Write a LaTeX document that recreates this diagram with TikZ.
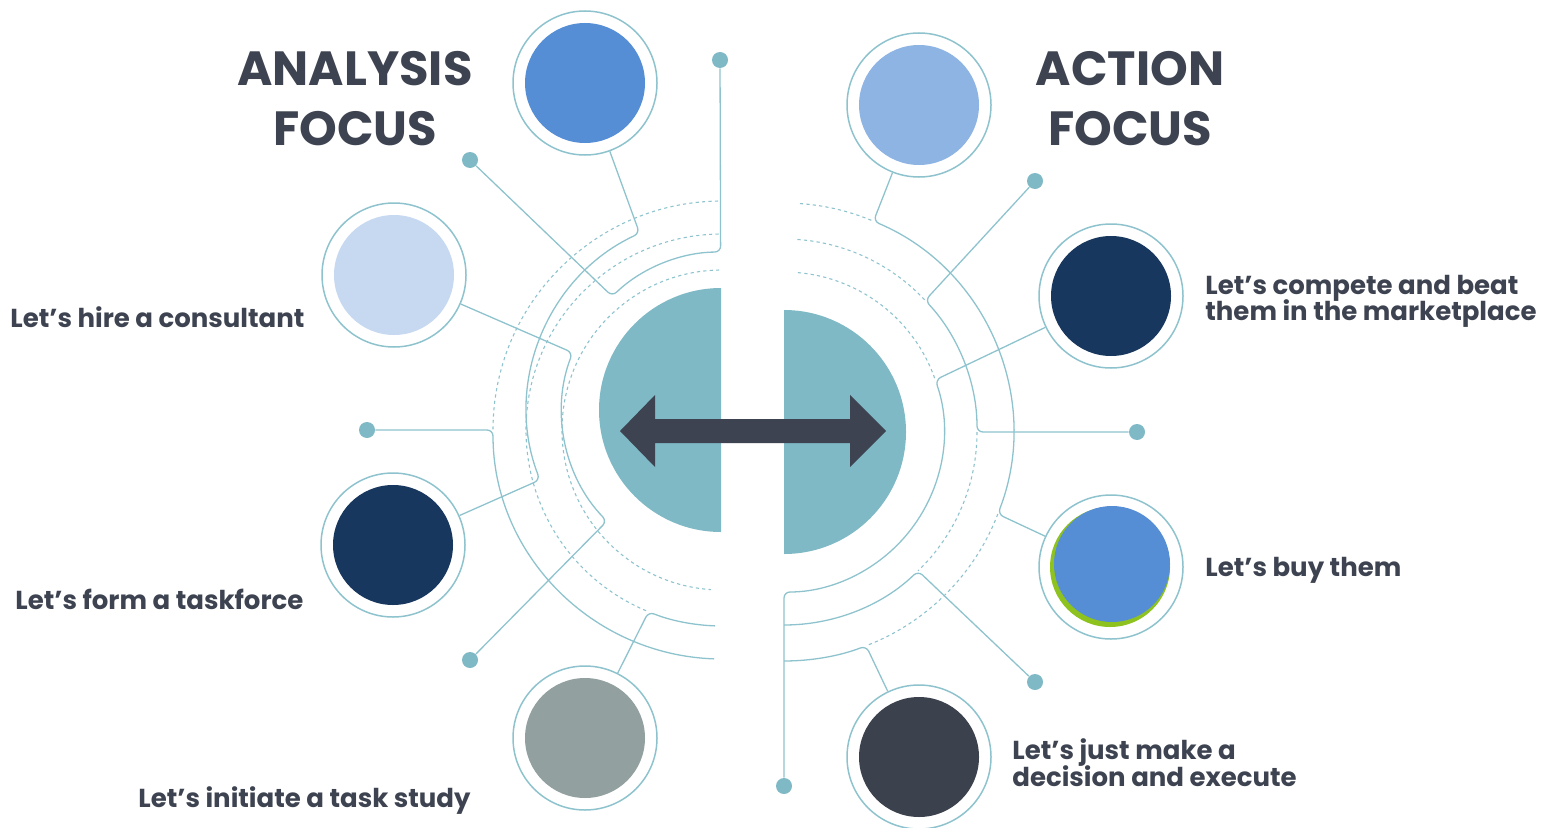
\documentclass[tikz,border=0pt]{standalone}
\usepackage{fontspec}
\setmainfont{Poppins}
\usetikzlibrary{calc}
\definecolor{txtC}{HTML}{3D4350}
\definecolor{lineC}{HTML}{8EC3CE}
\definecolor{dotC}{HTML}{7FB9C6}
\definecolor{diskC}{HTML}{7FB9C5}
\definecolor{ringC}{HTML}{8EC3CE}
\definecolor{arrowC}{HTML}{3D4350}
\definecolor{blueA}{HTML}{558ED5}
\definecolor{blueB}{HTML}{8EB4E3}
\definecolor{blueC}{HTML}{C6D9F1}
\definecolor{navy}{HTML}{17375E}
\definecolor{greyC}{HTML}{92A09F}
\definecolor{slate}{HTML}{3C424D}
\definecolor{limeC}{HTML}{8DC21F}
\begin{document}
\begin{tikzpicture}[x=0.5pt,y=0.5pt,
  conn/.style={draw=lineC, line width=0.65pt, rounded corners=3pt},
  dotarc/.style={draw=lineC, line width=0.55pt, dash pattern=on 1.6pt off 1.6pt},
  ring/.style={circle, draw=ringC, line width=0.75pt, minimum size=72pt, inner sep=0pt},
  pin/.style={circle, fill=dotC, minimum size=8pt, inner sep=0pt},
  title/.style={font=\fontsize{24}{30}\selectfont\bfseries, text=txtC, align=center},
  lbl/.style={font=\fontsize{13}{13}\selectfont\bfseries, text=txtC, anchor=base west, inner sep=0pt}]
\useasboundingbox (0,0) rectangle (1546,827);

% centres of the arc families
\coordinate (L1) at (722,417);
\coordinate (L2) at (722,397);
\coordinate (R)  at (784,395);

% central split disc
\fill[diskC] (721,539) arc[start angle=90,end angle=270,radius=122] -- cycle;
\fill[diskC] (784,517) arc[start angle=90,end angle=-90,radius=122] -- cycle;

% double arrow
\fill[arrowC] (620,396) -- (655,432) -- (655,408) -- (850,408) -- (850,432) -- (886,396)
  -- (850,360) -- (850,384) -- (655,384) -- (655,360) -- cycle;

% option circles
\node[ring] (cAna)   at (585,744) {};
\node[ring] (cCons)  at (394,552) {};
\node[ring] (cTask)  at (393,282) {};
\node[ring] (cStudy) at (585,89)  {};
\node[ring] (cAct)   at (919,722) {};
\node[ring] (cComp)  at (1111,531) {};
\node[ring] (cBuy)   at (1111,260) {};
\node[ring] (cDec)   at (919,70)  {};
\fill[blueA] (cAna) circle[radius=60];
\fill[blueC] (cCons) circle[radius=60];
\fill[navy]  (cTask) circle[radius=60];
\fill[greyC] (cStudy) circle[radius=60];
\fill[blueB] (cAct) circle[radius=60];
\fill[navy]  (cComp) circle[radius=60];
\fill[limeC] ($(cBuy)+(-1,0)$) circle[radius=60];
\fill[blueA] ($(cBuy)+(1,3)$) circle[radius=58];
\fill[slate] (cDec) circle[radius=60];

% end dots
\node[pin] (dA2) at (720,767) {};
\node[pin] (dA1) at (470,667) {};
\node[pin] (dH)  at (367,397) {};
\node[pin] (dE)  at (470,167) {};
\node[pin] (dNE) at (1035,646) {};
\node[pin] (dE2) at (1137,395) {};
\node[pin] (dSE) at (1035,145) {};
\node[pin] (dV)  at (784,41) {};

% dotted guide arcs
\draw[dotarc] ($(L2)+(91:229)$) arc[start angle=91,end angle=180,radius=229];
\draw[dotarc] ($(L2)+(91:196)$) arc[start angle=91,end angle=248,radius=196];
\draw[dotarc] ($(L2)+(91:160)$) arc[start angle=91,end angle=266,radius=160];
\draw[dotarc] ($(R)+(86:229)$) arc[start angle=86,end angle=67,radius=229];
\draw[dotarc] ($(R)+(-21:229)$) arc[start angle=-21,end angle=-69,radius=229];
\draw[dotarc] ($(R)+(86:193)$) arc[start angle=86,end angle=43,radius=193];
\draw[dotarc] ($(R)+(0:193)$) arc[start angle=0,end angle=-46,radius=193];
\draw[dotarc] ($(R)+(85:160)$) arc[start angle=85,end angle=19,radius=160];

% left connectors
\draw[conn] (dA1) -- ($(L1)+(134:158)$) arc[start angle=134,end angle=90.5,radius=158] -- (dA2);
\draw[conn] (cAna) -- ($(L1)+(115:195)$) arc[start angle=115,end angle=201,radius=195] -- (cTask);
\draw[conn] (cCons) -- ($(L1)+(159:160)$) arc[start angle=159,end angle=224,radius=160] -- (dE);
\draw[conn] (dH) -- ($(L2)+(180:229)$) arc[start angle=180,end angle=268,radius=229];
\draw[conn] (cStudy) -- ($(L2)+(248:196)$) arc[start angle=248,end angle=268,radius=196];

% right connectors
\draw[conn] (cComp) -- ($(R)+(19:160)$) arc[start angle=19,end angle=-90,radius=160] -- (dV);
\draw[conn] (dNE) -- ($(R)+(43:193)$) arc[start angle=43,end angle=0,radius=193] -- (dE2);
\draw[conn] (dSE) -- ($(R)+(-46:193)$) arc[start angle=-46,end angle=-90,radius=193];
\draw[conn] (cAct) -- ($(R)+(67:229)$) arc[start angle=67,end angle=-21,radius=229] -- (cBuy);
\draw[conn] (cDec) -- ($(R)+(-69:229)$) arc[start angle=-69,end angle=-90,radius=229];

% headings
\node[title] (tAna) at (355,728) {ANALYSIS\\FOCUS};
\node[title] (tAct) at (1130,728) {ACTION\\FOCUS};

% option labels
\node[lbl] (lCons)  at (10,500)  {Let’s hire a consultant};
\node[lbl] (lTask)  at (15,218)  {Let’s form a taskforce};
\node[lbl] (lStudy) at (138,20)  {Let’s initiate a task study};
\node[lbl] (lComp1) at (1205,533) {Let’s compete and beat};
\node[lbl] (lComp2) at (1205,507) {them in the marketplace};
\node[lbl] (lBuy)   at (1205,251) {Let’s buy them};
\node[lbl] (lDec1)  at (1012,68) {Let’s just make a};
\node[lbl] (lDec2)  at (1012,41) {decision and execute};
\end{tikzpicture}
\end{document}
